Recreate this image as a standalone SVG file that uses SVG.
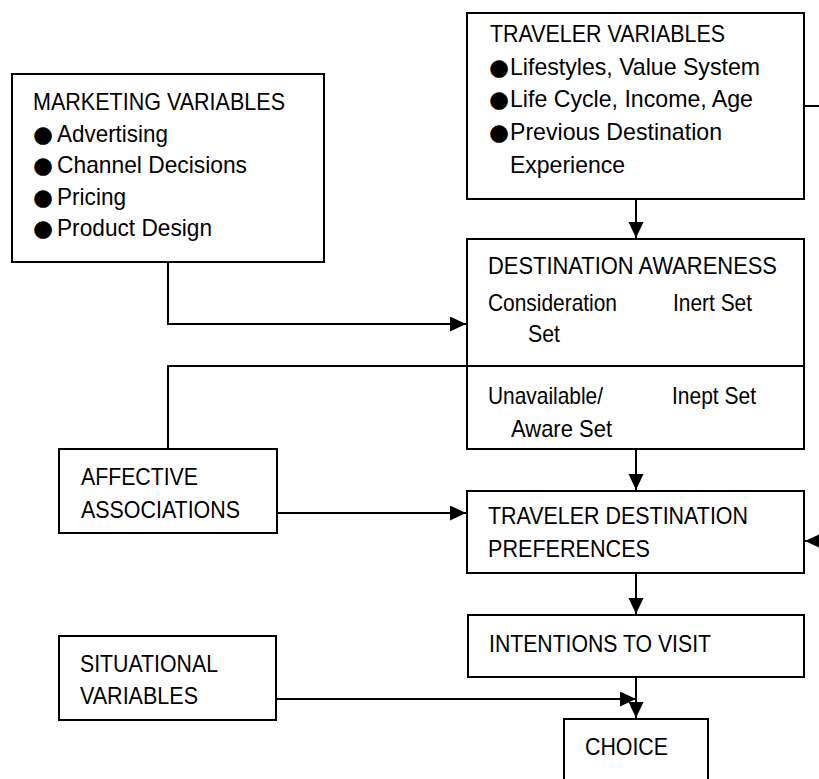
<svg xmlns="http://www.w3.org/2000/svg" width="819" height="779" viewBox="0 0 819 779">
<style>
.box{fill:#fff;stroke:#000;stroke-width:2}
.ln{fill:none;stroke:#000;stroke-width:2}
text{font-family:"Liberation Sans",Arial,"DejaVu Sans",sans-serif;font-size:24px;fill:#000}
.b{font-family:"DejaVu Sans",sans-serif;font-size:23px}
</style>
<defs>
<marker id="ah" markerUnits="userSpaceOnUse" markerWidth="17" markerHeight="16" refX="16" refY="7.5" orient="auto">
<path d="M0,0 L16,7.5 L0,15 z" fill="#000"/>
</marker>
</defs>
<rect width="819" height="779" fill="#fff"/>

<g id="connectors">
<path class="ln" d="M636,199 V238" marker-end="url(#ah)"/>
<path class="ln" d="M168,262 V324 H466" marker-end="url(#ah)"/>
<path class="ln" d="M168,449 V366 H467"/>
<path class="ln" d="M277,513 H466" marker-end="url(#ah)"/>
<path class="ln" d="M636,303 V490" marker-end="url(#ah)"/>
<path class="ln" d="M804,106 H840 V541 H805" marker-end="url(#ah)"/>
<path class="ln" d="M636,573 V614" marker-end="url(#ah)"/>
<path class="ln" d="M636,677 V718" marker-end="url(#ah)"/>
<path class="ln" d="M276,699 H636" marker-end="url(#ah)"/>
</g>

<g id="traveler-variables">
<rect class="box" x="467" y="13" width="337" height="186"/>
<text x="490" y="42" textLength="235" lengthAdjust="spacingAndGlyphs">TRAVELER VARIABLES</text>
<text y="75"><tspan class="b" x="489">●</tspan><tspan x="510" textLength="250" lengthAdjust="spacingAndGlyphs">Lifestyles, Value System</tspan></text>
<text y="107"><tspan class="b" x="489">●</tspan><tspan x="510" textLength="243" lengthAdjust="spacingAndGlyphs">Life Cycle, Income, Age</tspan></text>
<text y="140"><tspan class="b" x="489">●</tspan><tspan x="510" textLength="212" lengthAdjust="spacingAndGlyphs">Previous Destination</tspan></text>
<text x="510" y="173" textLength="115" lengthAdjust="spacingAndGlyphs">Experience</text>
</g>

<g id="marketing-variables">
<rect class="box" x="12" y="74" width="312" height="188"/>
<text x="33" y="110" textLength="252" lengthAdjust="spacingAndGlyphs">MARKETING VARIABLES</text>
<text y="142"><tspan class="b" x="33">●</tspan><tspan x="57" textLength="111" lengthAdjust="spacingAndGlyphs">Advertising</tspan></text>
<text y="173"><tspan class="b" x="33">●</tspan><tspan x="57" textLength="190" lengthAdjust="spacingAndGlyphs">Channel Decisions</tspan></text>
<text y="205"><tspan class="b" x="33">●</tspan><tspan x="57" textLength="69" lengthAdjust="spacingAndGlyphs">Pricing</tspan></text>
<text y="236"><tspan class="b" x="33">●</tspan><tspan x="57" textLength="155" lengthAdjust="spacingAndGlyphs">Product Design</tspan></text>
</g>

<g id="destination-awareness">
<rect class="box" x="467" y="239" width="337" height="210"/>
<line class="ln" x1="467" y1="366" x2="804" y2="366"/>
<text x="488" y="274" textLength="289" lengthAdjust="spacingAndGlyphs">DESTINATION AWARENESS</text>
<text x="488" y="311" textLength="129" lengthAdjust="spacingAndGlyphs">Consideration</text>
<text x="673" y="311" textLength="79" lengthAdjust="spacingAndGlyphs">Inert Set</text>
<text x="528" y="342" textLength="32" lengthAdjust="spacingAndGlyphs">Set</text>
<text x="488" y="404" textLength="115" lengthAdjust="spacingAndGlyphs">Unavailable/</text>
<text x="672" y="404" textLength="84" lengthAdjust="spacingAndGlyphs">Inept Set</text>
<text x="511" y="437" textLength="101" lengthAdjust="spacingAndGlyphs">Aware Set</text>
</g>

<g id="affective-associations">
<rect class="box" x="59" y="449" width="218" height="84"/>
<text x="81" y="485" textLength="117" lengthAdjust="spacingAndGlyphs">AFFECTIVE</text>
<text x="81" y="518" textLength="159" lengthAdjust="spacingAndGlyphs">ASSOCIATIONS</text>
</g>

<g id="traveler-destination-preferences">
<rect class="box" x="467" y="491" width="337" height="82"/>
<text x="488" y="524" textLength="260" lengthAdjust="spacingAndGlyphs">TRAVELER DESTINATION</text>
<text x="488" y="557" textLength="162" lengthAdjust="spacingAndGlyphs">PREFERENCES</text>
</g>

<g id="intentions-to-visit">
<rect class="box" x="468" y="615" width="336" height="62"/>
<text x="489" y="652" textLength="222" lengthAdjust="spacingAndGlyphs">INTENTIONS TO VISIT</text>
</g>

<g id="situational-variables">
<rect class="box" x="59" y="636" width="217" height="84"/>
<text x="80" y="672" textLength="138" lengthAdjust="spacingAndGlyphs">SITUATIONAL</text>
<text x="80" y="704" textLength="118" lengthAdjust="spacingAndGlyphs">VARIABLES</text>
</g>

<g id="choice">
<rect class="box" x="564" y="719" width="144" height="80"/>
<text x="585" y="755" textLength="83" lengthAdjust="spacingAndGlyphs">CHOICE</text>
</g>
</svg>
